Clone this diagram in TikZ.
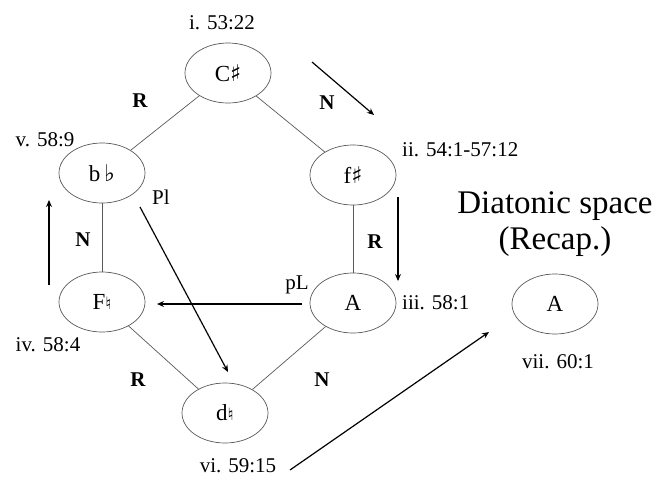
\documentclass[tikz,border=0pt]{standalone}
\usepackage{fontspec}
\setmainfont{Liberation Serif}
\newfontfamily\musicsym{DejaVu Serif}
\usetikzlibrary{shapes.geometric,arrows.meta}
\newcommand{\shp}{{\musicsym\char"266F}}
\newcommand{\flt}{{\musicsym\char"266D}}
\newcommand{\ntl}{{\musicsym\fontsize{17}{17}\selectfont\char"266E}}
\begin{document}
\begin{tikzpicture}[x=1pt,y=-1pt,
  keynode/.style={draw=black!65,line width=0.7pt,ellipse,minimum width=86pt,minimum height=60pt,inner sep=0pt,font=\fontsize{23}{25}\selectfont},
  link/.style={draw=black!65,line width=0.7pt},
  op/.style={font=\fontsize{21}{23}\selectfont\bfseries},
  tag/.style={font=\fontsize{21}{23}\selectfont,inner sep=0pt},
  move/.style={line width=1.2pt,-{Stealth[length=7pt,width=6pt]}}]
\useasboundingbox (0,0) rectangle (659,479);

% tonal centres
\node[keynode] (cs) at (228,73) {C\shp};
\node[keynode] (bb) at (102,173) {b\,\flt};
\node[keynode] (fs) at (353,175) {f\shp};
\node[keynode] (fn) at (102,302) {F\ntl};
\node[keynode] (a)  at (353,303) {A};
\node[keynode] (dn) at (225,413) {d\ntl};
\node[keynode] (ar) at (555,304) {A};

% hexatonic cycle
\draw[link] (cs) -- (bb);
\draw[link] (cs) -- (fs);
\draw[link] (bb) -- (fn);
\draw[link] (fs) -- (a);
\draw[link] (fn) -- (dn);
\draw[link] (a) -- (dn);

% transformation labels
\node[op] (r1) at (140,101) {R};
\node[op] (n1) at (327,103) {N};
\node[op] (n2) at (83,240) {N};
\node[op] (r2) at (375,242) {R};
\node[op] (r3) at (138,380) {R};
\node[op] (n3) at (322,380) {N};
\node[tag] (pl) at (161,197) {Pl};
\node[tag] (pL) at (297,285) {pL};

% measure labels
\node[tag] (m1) at (222,23) {i. 53:22};
\node[tag,anchor=west] (m2) at (402,150) {ii. 54:1-57:12};
\node[tag,anchor=west] (m3) at (402,303) {iii. 58:1};
\node[tag] (m4) at (48,345) {iv. 58:4};
\node[tag] (m5) at (45,140) {v. 58:9};
\node[tag] (m6) at (238,466) {vi. 59:15};
\node[tag] (m7) at (558,362) {vii. 60:1};

\node[font=\fontsize{33}{36}\selectfont,align=center,inner sep=0pt] (title) at (555,224) {Diatonic space\\(Recap.)};

% motion arrows
\coordinate (t1) at (312,62);  \coordinate (t2) at (374,115);
\coordinate (d1) at (398,197); \coordinate (d2) at (398,281);
\coordinate (u1) at (49,285);  \coordinate (u2) at (49,200);
\coordinate (h1) at (302,304); \coordinate (h2) at (157,304);
\coordinate (p1) at (140,207); \coordinate (p2) at (228,372);
\coordinate (g1) at (290,470); \coordinate (g2) at (489,332);
\draw[move] (t1) -- (t2);
\draw[move] (d1) -- (d2);
\draw[move] (u1) -- (u2);
\draw[move] (h1) -- (h2);
\draw[move] (p1) -- (p2);
\draw[move] (g1) -- (g2);
\end{tikzpicture}
\end{document}
